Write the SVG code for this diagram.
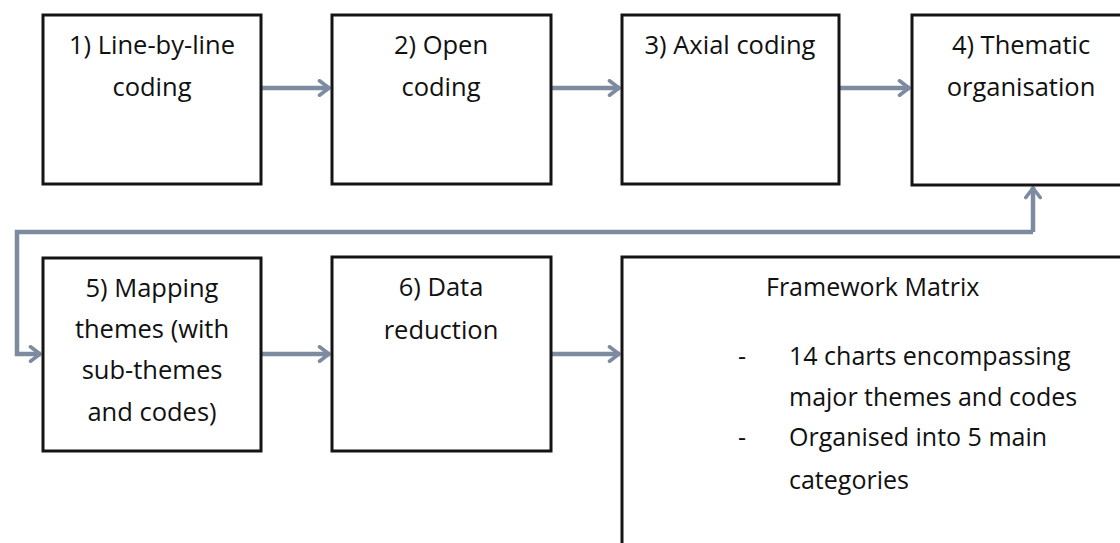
<svg xmlns="http://www.w3.org/2000/svg" width="1120" height="543" viewBox="0 0 1120 543">
  <defs>
    <marker id="head" viewBox="0 0 14 18" refX="13" refY="9" markerWidth="14" markerHeight="18" markerUnits="userSpaceOnUse" orient="auto">
      <path d="M2.5,1.8 L12,9 L2.5,16.2" fill="none" stroke="#7d8ba0" stroke-width="3.6" stroke-linecap="round" stroke-linejoin="round"/>
    </marker>
  </defs>
  <style>
    .box { fill: #ffffff; stroke: #141414; stroke-width: 3; }
    .lbl { font-family: "Open Sans", "Liberation Sans", sans-serif; font-size: 25.5px; fill: #111111; text-anchor: middle; }
    .txt { font-family: "Open Sans", "Liberation Sans", sans-serif; font-size: 25px; fill: #111111; }
    .conn { fill: none; stroke: #7d8ba0; stroke-width: 4.5; marker-end: url(#head); }
  </style>
  <rect width="1120" height="543" fill="#ffffff"/>

  <g id="connectors">
    <line class="conn" x1="262" y1="88" x2="330" y2="88"/>
    <line class="conn" x1="552" y1="88" x2="620" y2="88"/>
    <line class="conn" x1="840" y1="88" x2="910" y2="88"/>
    <path class="conn" d="M1033,232 L1033,187"/>
    <path class="conn" d="M1033,232 L17,232 L17,354 L41,354" stroke-linejoin="miter"/>
    <line class="conn" x1="262" y1="354" x2="330" y2="354"/>
    <line class="conn" x1="552" y1="354" x2="620" y2="354"/>
  </g>

  <g id="step1">
    <rect class="box" x="43" y="15" width="218" height="169"/>
    <text class="lbl" x="152" y="54">1) Line-by-line</text>
    <text class="lbl" x="152" y="96">coding</text>
  </g>
  <g id="step2">
    <rect class="box" x="332" y="15" width="219" height="169"/>
    <text class="lbl" x="441" y="54">2) Open</text>
    <text class="lbl" x="441" y="96">coding</text>
  </g>
  <g id="step3">
    <rect class="box" x="622" y="15" width="217" height="169"/>
    <text class="lbl" x="730" y="54">3) Axial coding</text>
  </g>
  <g id="step4">
    <rect class="box" x="912" y="15" width="230" height="170"/>
    <text class="lbl" x="1021" y="54">4) Thematic</text>
    <text class="lbl" x="1021" y="96">organisation</text>
  </g>
  <g id="step5">
    <rect class="box" x="43" y="258" width="218" height="193"/>
    <text class="lbl" x="152" y="297">5) Mapping</text>
    <text class="lbl" x="152" y="338">themes (with</text>
    <text class="lbl" x="152" y="379">sub-themes</text>
    <text class="lbl" x="152" y="421">and codes)</text>
  </g>
  <g id="step6">
    <rect class="box" x="332" y="257" width="219" height="194"/>
    <text class="lbl" x="441" y="296">6) Data</text>
    <text class="lbl" x="441" y="339">reduction</text>
  </g>
  <g id="framework">
    <rect class="box" x="622" y="257" width="520" height="300"/>
    <text class="txt" x="766" y="296">Framework Matrix</text>
    <text class="txt" x="738" y="365">-</text>
    <text class="txt" x="789" y="365">14 charts encompassing</text>
    <text class="txt" x="789" y="406">major themes and codes</text>
    <text class="txt" x="738" y="446">-</text>
    <text class="txt" x="789" y="446">Organised into 5 main</text>
    <text class="txt" x="789" y="489">categories</text>
  </g>
</svg>
